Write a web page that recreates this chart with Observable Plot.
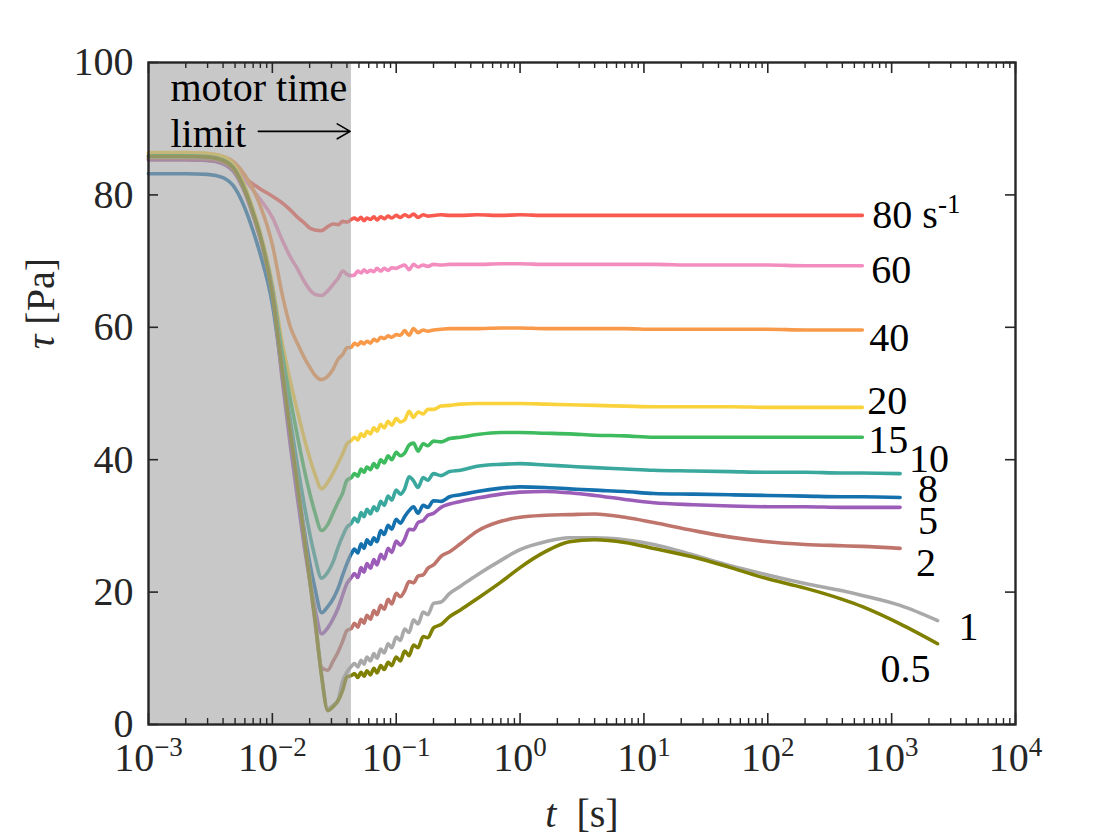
<!DOCTYPE html>
<html>
<head>
<meta charset="utf-8">
<script src="https://cdn.jsdelivr.net/npm/d3@7"></script>
<script src="https://cdn.jsdelivr.net/npm/@observablehq/plot@0.6"></script>
<style>
  html, body { margin: 0; padding: 0; background: #fff; }
  #chart { width: 1120px; height: 840px; }
</style>
</head>
<body>
<div id="chart"></div>
<script>
// ---- data ----
const t = [0.001,0.002,0.003,0.004,0.005,0.006,0.007,0.008,0.010,0.012,0.014,0.016,0.018,0.020,0.022,0.025,0.028,0.031,0.034,0.037,0.040,0.0435,
  0.046,0.049,0.052,0.055,0.058,0.062,0.066,0.07,0.075,0.08,0.086,0.092,0.1,0.108,0.117,0.127,0.138,0.15,0.165,0.18,0.2,0.23,0.27,
  0.33,0.45,0.7,1,1.6,2.5,4,7,12,25,50,100,200,400,580,1170,2350];

const s80 = [85.3,85.3,85.2,84.8,83.8,82.6,81.6,80.9,79.8,78.8,77.7,76.6,75.8,75.0,74.7,74.6,75.2,75.6,75.5,76.0,75.9,76.3,
  76.5,76.2,76.6,76.1,76.5,76.3,76.7,76.2,76.7,76.4,76.8,76.5,76.9,76.6,77.0,76.7,77.1,76.6,77.0,76.8,76.9,77.0,76.9,
  76.9,77.0,76.9,77.0,76.9,76.9,76.9,76.9,76.9,76.9,76.9,76.9,76.9,76.9,76.9,null,null];
const s60 = [85.9,85.9,85.8,85.3,83.9,82.3,80.7,79.3,76.6,73.2,70.6,68.8,67.0,65.7,65.0,64.8,65.5,66.5,67.4,68.5,68.0,67.8,
  67.9,68.5,68.2,68.7,68.3,68.6,68.4,68.9,68.5,68.9,68.6,69.0,68.9,69.2,69.4,68.7,69.5,69.1,69.4,69.2,69.5,69.4,69.5,
  69.5,69.5,69.6,69.6,69.5,69.5,69.5,69.5,69.5,69.4,69.4,69.4,69.3,69.3,69.3,null,null];
const s40 = [86.3,86.3,86.2,85.8,84.8,83.0,80.8,78.3,72.5,65.0,60.0,57.5,55.5,54.0,52.8,52.1,52.6,53.7,55.2,55.9,56.9,57.0,
  57.6,57.3,57.8,57.5,57.9,57.6,58.2,57.9,58.5,58.3,58.7,58.5,58.9,58.8,59.5,58.8,59.8,59.2,59.6,59.4,59.6,59.7,59.8,
  59.8,59.8,59.9,59.9,59.8,59.8,59.8,59.8,59.7,59.7,59.7,59.7,59.6,59.6,59.6,null,null];
const s20 = [86.4,86.4,86.3,85.8,84.3,81.3,77.8,74.3,66.5,57.7,51.8,47.2,43.4,40.3,37.9,35.6,36.6,38.0,39.5,40.9,42.4,42.9,
  43.4,43.0,43.9,43.5,44.3,43.9,44.8,44.3,45.3,44.8,45.8,45.2,46.2,45.7,46.0,47.3,46.4,47.2,46.9,47.6,47.6,48.1,48.2,
  48.4,48.5,48.5,48.5,48.4,48.3,48.2,48.1,48.0,48.0,48.0,47.9,47.9,47.9,47.9,null,null];
const s15 = [85.9,85.9,85.8,85.3,83.8,80.8,77.3,73.8,65.8,56.1,49.0,43.4,38.7,35.0,32.1,29.3,30.2,32.0,33.6,35.0,36.9,37.3,
  37.9,37.5,38.6,38.1,38.9,38.5,39.4,38.8,40.0,39.5,40.6,40.0,41.1,40.6,41.0,42.2,42.5,41.3,42.4,42.1,42.8,42.7,43.2,
  43.4,43.8,44.1,44.1,44.0,43.9,43.7,43.6,43.4,43.4,43.4,43.4,43.4,43.4,43.4,null,null];
const s10 = [85.6,85.6,85.5,85.0,83.5,80.6,77.1,73.6,65.4,54.3,45.8,39.0,33.4,28.9,25.4,22.1,23.0,24.6,26.8,28.5,29.8,30.4,
  31.2,30.6,32.0,31.4,32.5,31.8,32.9,32.3,33.7,33.1,34.5,33.9,35.4,34.8,35.6,37.4,36.8,35.8,37.3,36.9,37.9,37.6,38.2,
  38.4,39.0,39.3,39.4,39.2,39.0,38.8,38.6,38.4,38.3,38.2,38.1,38.1,38.0,38.0,37.9,null];
const s8 = [83.2,83.2,83.1,82.6,81.0,78.0,74.5,71.0,63.5,53.0,43.5,35.9,29.6,24.5,20.7,16.9,17.8,19.0,20.6,22.6,24.3,25.8,
  26.5,25.9,27.3,26.6,27.9,27.2,28.2,27.6,29.3,28.7,30.1,29.5,31.0,30.4,31.4,32.3,32.9,31.9,33.1,32.8,33.8,33.7,34.4,
  34.7,35.2,35.7,35.9,35.8,35.6,35.4,35.2,34.9,34.8,34.7,34.6,34.5,34.4,34.4,34.3,null];
const s5 = [85.3,85.3,85.2,84.7,83.2,80.3,76.8,73.3,65.1,52.2,42.0,34.0,27.2,21.9,17.7,13.7,14.6,16.0,17.6,19.6,21.3,22.2,
  22.8,22.2,23.7,23.0,24.3,23.6,24.9,24.1,25.7,25.0,26.6,26.0,27.7,27.1,28.0,29.5,29.4,30.5,30.8,31.6,31.9,32.8,33.3,
  33.7,34.2,34.8,35.1,35.2,35.0,34.6,34.0,33.5,33.2,33.0,32.9,32.9,32.8,32.8,32.8,null];
const s2 = [85.5,85.5,85.4,84.9,83.4,80.5,77.0,73.5,65.2,53.5,44.0,36.0,28.5,21.8,15.8,8.6,8.2,9.6,11.0,12.6,14.2,14.5,
  15.3,14.7,15.9,15.3,16.5,15.9,17.2,16.6,18.0,17.4,18.9,18.2,19.8,19.3,20.2,21.6,21.4,22.4,22.6,23.6,24.1,25.4,26.1,
  27.3,29.2,30.7,31.3,31.6,31.7,31.8,31.3,30.5,29.3,28.3,27.6,27.2,27.0,26.9,26.6,null];
const s1 = [85.7,85.7,85.6,85.1,83.6,80.6,77.1,73.6,65.1,53.8,44.3,36.3,29.0,22.4,16.6,7.5,2.4,2.9,3.8,6.6,7.9,8.8,
  9.2,8.7,9.7,9.1,10.2,9.6,10.7,10.0,11.4,10.8,12.2,11.6,13.2,12.7,14.4,13.9,15.8,15.2,17.0,16.6,18.3,18.5,19.8,
  20.9,22.6,24.8,26.4,27.6,28.2,28.2,27.9,27.2,25.6,24.0,22.6,21.3,20.2,19.5,18.0,15.7];
const s05 = [85.8,85.8,85.7,85.2,83.7,80.7,77.2,73.7,65.0,53.5,44.0,36.0,28.6,22.0,16.2,7.2,2.1,2.7,3.6,5.2,7.2,7.4,
  7.7,7.1,7.9,7.3,8.1,7.5,8.5,7.8,8.9,8.3,9.4,8.9,10.2,9.6,11.1,10.4,12.0,11.6,13.3,13.1,14.6,15.1,16.3,
  17.3,19.0,21.5,23.7,26.1,27.6,27.9,27.5,26.6,25.3,23.7,22.0,20.6,18.9,17.8,15.2,12.2];

const rates  = ["80","60","40","20","15","10","8","5","2","1","0.5"];
const labels = ["80 s^{-1}","60","40","20","15","10","8","5","2","1","0.5"];
const series = [s80, s60, s40, s20, s15, s10, s8, s5, s2, s1, s05];
const colors = ["#f95a50","#f38cbf","#f89a4a","#f9d23c","#3dbb5e","#3aa89d","#1471ad","#9c5db8","#bf746c","#a9a9a9","#7f7f00"];

const xDomain = [1e-3, 1e4];
const yDomain = [0, 100];
const yTicks = [0, 20, 40, 60, 80, 100];
const xDecades = [1e-3, 1e-2, 1e-1, 1e0, 1e1, 1e2, 1e3, 1e4];
const motorLimit = 0.0435;                 // end of the shaded "motor time limit" band [s]
const annotText = "motor time\nlimit";
const arrowAnno = [{from: 0.0077, to: 0.0425, tau: 89.6}];

// label placement (pixel nudges from each curve's last point)
const labelDx = [10, 9, 7, 5, 6, 9, 18, 18, 16, 21, -57];
const labelDy = [0, 4, 8, -6, 3, -14, -8, 14, 15, 7, 25];

// ---- build tidy rows ----
const rows = rates.flatMap((r, i) =>
  t.map((tt, j) => ({t: tt, tau: series[i][j], rate: r})).filter(d => d.tau != null));
const lastPts = rates.map((r, i) => {
  const s = series[i]; let j = s.length - 1; while (s[j] == null) j--;
  return {t: t[j], tau: s[j], label: labels[i]};
});
const xMinor = d3.scaleLog().domain(xDomain).ticks().filter(v => !xDecades.some(d => Math.abs(d - v) / d < 1e-9));

const W = 1120, H = 840, mL = 148, mR = 105, mT = 62, mB = 116;
const plotW = W - mL - mR, plotH = H - mT - mB;
const FONT = "'Liberation Serif', 'Times New Roman', serif";
const ink = "#262626";
const sup = v => (v < 0 ? "\u2212" + Math.abs(v) : String(v));

const chart = Plot.plot({
  width: W, height: H,
  marginLeft: mL, marginRight: mR, marginTop: mT, marginBottom: mB,
  style: {fontFamily: FONT, background: "#fff", color: ink},
  x: {type: "log", domain: xDomain},
  y: {domain: yDomain},
  color: {domain: rates, range: colors},
  marks: [
    Plot.line(rows, {x: "t", y: "tau", z: "rate", stroke: "rate", strokeWidth: 3.6, curve: "monotone-x", strokeLinejoin: "round"}),
    Plot.rect([{a: xDomain[0], b: motorLimit}], {x1: "a", x2: "b", fill: "#a3a3a3", fillOpacity: 0.6}),
    // inward ticks (MATLAB style box)
    Plot.tickX(xDecades, {x: d => d, stroke: ink, strokeWidth: 1.6, insetTop: plotH - 11}),
    Plot.tickX(xDecades, {x: d => d, stroke: ink, strokeWidth: 1.6, insetBottom: plotH - 11}),
    Plot.tickX(xMinor, {x: d => d, stroke: ink, strokeWidth: 1.4, insetTop: plotH - 6}),
    Plot.tickX(xMinor, {x: d => d, stroke: ink, strokeWidth: 1.4, insetBottom: plotH - 6}),
    Plot.tickY(yTicks, {y: d => d, stroke: ink, strokeWidth: 1.6, insetRight: plotW - 10}),
    Plot.tickY(yTicks, {y: d => d, stroke: ink, strokeWidth: 1.6, insetLeft: plotW - 10}),
    Plot.frame({stroke: ink, strokeWidth: 2.4}),
    Plot.axisY({ticks: yTicks, tickSize: 0, tickPadding: 15, fontSize: 40, fontFamily: FONT, label: null}),
    Plot.axisX({ticks: xDecades, tickSize: 0, tickPadding: 18, fontSize: 40, fontFamily: FONT, label: null,
      tickFormat: d => `10^{${sup(Math.round(Math.log10(d)))}}`}),
    Plot.text(["*t*\u2002[s]"], {text: d => d, frameAnchor: "bottom", textAnchor: "middle", lineAnchor: "bottom", dy: 102, fontSize: 40, fontFamily: FONT, fill: ink}),
    Plot.text(["*τ* [Pa]"], {text: d => d, frameAnchor: "left", textAnchor: "middle", rotate: -90, dx: -107, dy: -90, fontSize: 40, fontFamily: FONT, fill: ink}),
    // annotation
    Plot.text([annotText], {text: d => d, frameAnchor: "top-left", textAnchor: "start", lineAnchor: "top", dx: 22, dy: 6, lineHeight: 1.15, fontSize: 40, fontFamily: FONT, fill: "#000"}),
    Plot.arrow(arrowAnno, {x1: "from", x2: "to", y1: "tau", y2: "tau", stroke: "#000", strokeWidth: 1.6, headLength: 14}),
    // curve labels
    ...lastPts.map((p, i) => Plot.text([p], {x: "t", y: "tau", text: "label", textAnchor: "start", dx: labelDx[i], dy: labelDy[i], fontSize: 40, fontFamily: FONT, fill: "#000"}))
  ]
});

// turn ^{...} into superscripts and *...* into italics
function richify(svg) {
  const NS = "http://www.w3.org/2000/svg";
  svg.querySelectorAll("text").forEach(el => {
    if (el.querySelector("tspan")) return;
    const s = el.textContent;
    if (!/[\^*]/.test(s)) return;
    el.textContent = "";
    const re = /\^\{([^}]*)\}|\*([^*]*)\*|([^^*]+)/g;
    let m, raised = false;
    while ((m = re.exec(s))) {
      const ts = document.createElementNS(NS, "tspan");
      if (m[1] != null) {
        ts.textContent = m[1]; ts.setAttribute("font-size", 27); ts.setAttribute("dy", -15); raised = true;
      } else {
        ts.textContent = m[2] != null ? m[2] : m[3];
        if (m[2] != null) ts.setAttribute("font-style", "italic");
        if (raised) { ts.setAttribute("dy", 15); raised = false; }
      }
      el.appendChild(ts);
    }
  });
}
richify(chart);
document.getElementById("chart").appendChild(chart);
</script>
</body>
</html>
